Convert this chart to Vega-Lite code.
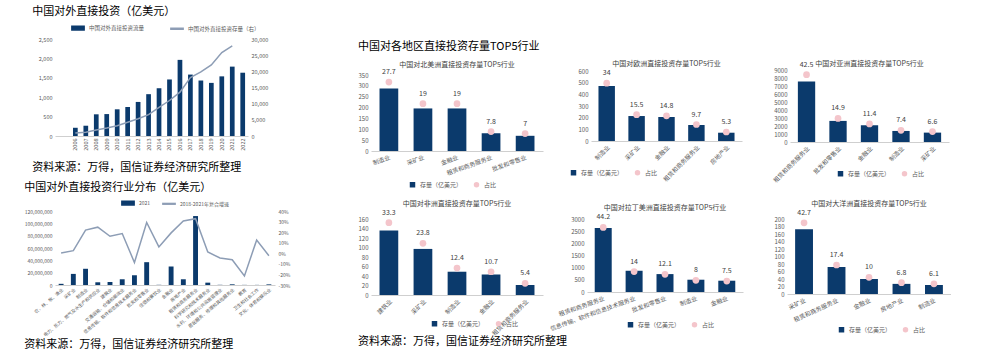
{
"$schema": "https://vega.github.io/schema/vega-lite/v6.json",
"background": "white",
"padding": {"left": 24, "top": 6, "right": 0, "bottom": 0},
"config": {
 "font": "Noto Sans CJK SC",
 "view": {"stroke": null},
 "axis": {"grid": false, "ticks": false, "domain": false, "labelFontSize": 6, "labelColor": "#595959", "labelPadding": 3},
 "axisX": {"domain": true, "domainColor": "#cfcfcf"},
 "legend": {"labelFontSize": 6, "labelColor": "#595959"},
 "title": {"fontWeight": "normal", "color": "#000"}
},
"datasets": {
 "fdi": [
  {"year": "2006", "flow": 212, "stock": 906},
  {"year": "2007", "flow": 265, "stock": 1179},
  {"year": "2008", "flow": 559, "stock": 1840},
  {"year": "2009", "flow": 565, "stock": 2458},
  {"year": "2010", "flow": 688, "stock": 3172},
  {"year": "2011", "flow": 747, "stock": 4248},
  {"year": "2012", "flow": 878, "stock": 5319},
  {"year": "2013", "flow": 1078, "stock": 6605},
  {"year": "2014", "flow": 1231, "stock": 8826},
  {"year": "2015", "flow": 1457, "stock": 10979},
  {"year": "2016", "flow": 1962, "stock": 13574},
  {"year": "2017", "flow": 1583, "stock": 18090},
  {"year": "2018", "flow": 1430, "stock": 19823},
  {"year": "2019", "flow": 1369, "stock": 21989},
  {"year": "2020", "flow": 1537, "stock": 25807},
  {"year": "2021", "flow": 1788, "stock": 27852},
  {"year": "2022", "flow": 1631, "stock": null}
 ],
 "industry": [
  {"ind": "农、林、牧、渔业", "v2021": 1900000, "cagr": 0.2},
  {"ind": "采矿业", "v2021": 18000000, "cagr": 2.5},
  {"ind": "制造业", "v2021": 26300000, "cagr": 21.9},
  {"ind": "电力、热力、燃气及水生产和供应业", "v2021": 4400000, "cagr": 24.7},
  {"ind": "建筑业", "v2021": 4900000, "cagr": 16.1},
  {"ind": "交通运输、仓储和邮政业", "v2021": 9300000, "cagr": 18.7},
  {"ind": "信息传输、软件和信息技术服务业", "v2021": 15800000, "cagr": -8.7},
  {"ind": "批发和零售业", "v2021": 37000000, "cagr": 29.2},
  {"ind": "住宿和餐饮业", "v2021": 300000, "cagr": 6.0},
  {"ind": "金融业", "v2021": 30000000, "cagr": 19.3},
  {"ind": "房地产业", "v2021": 9300000, "cagr": 30.5},
  {"ind": "租赁和商务服务业", "v2021": 111800000, "cagr": 32.7},
  {"ind": "科学研究和技术服务业", "v2021": 3800000, "cagr": 1.2},
  {"ind": "水利、环境和公共设施管理业", "v2021": 300000, "cagr": -4.5},
  {"ind": "居民服务、修理和其他服务业", "v2021": 1100000, "cagr": -6.1},
  {"ind": "教育", "v2021": 200000, "cagr": -21.4},
  {"ind": "卫生和社会工作", "v2021": 200000, "cagr": 12.6},
  {"ind": "文化、体育和娱乐业", "v2021": 1000000, "cagr": -2.3}
 ],
 "top5": [
  {"region": "北美洲", "ind": "制造业", "stock": 288, "share": 27.7},
  {"region": "北美洲", "ind": "采矿业", "stock": 196, "share": 19},
  {"region": "北美洲", "ind": "金融业", "stock": 196, "share": 19},
  {"region": "北美洲", "ind": "租赁和商务服务业", "stock": 82, "share": 7.8},
  {"region": "北美洲", "ind": "批发和零售业", "stock": 70, "share": 7},
  {"region": "欧洲", "ind": "制造业", "stock": 471, "share": 34},
  {"region": "欧洲", "ind": "采矿业", "stock": 214, "share": 15.5},
  {"region": "欧洲", "ind": "金融业", "stock": 206, "share": 14.8},
  {"region": "欧洲", "ind": "租赁和商务服务业", "stock": 137, "share": 9.7},
  {"region": "欧洲", "ind": "房地产业", "stock": 71, "share": 5.3},
  {"region": "亚洲", "ind": "租赁和商务服务业", "stock": 7577, "share": 42.5},
  {"region": "亚洲", "ind": "批发和零售业", "stock": 2637, "share": 14.9},
  {"region": "亚洲", "ind": "金融业", "stock": 2093, "share": 11.4},
  {"region": "亚洲", "ind": "制造业", "stock": 1381, "share": 7.4},
  {"region": "亚洲", "ind": "采矿业", "stock": 1172, "share": 6.6},
  {"region": "非洲", "ind": "建筑业", "stock": 136, "share": 33.3},
  {"region": "非洲", "ind": "采矿业", "stock": 97, "share": 23.8},
  {"region": "非洲", "ind": "制造业", "stock": 49, "share": 12.4},
  {"region": "非洲", "ind": "金融业", "stock": 43, "share": 10.7},
  {"region": "非洲", "ind": "租赁和商务服务业", "stock": 21, "share": 5.4},
  {"region": "拉丁美洲", "ind": "租赁和商务服务业", "stock": 2632, "share": 44.2},
  {"region": "拉丁美洲", "ind": "信息传输、软件和信息技术服务业", "stock": 873, "share": 14},
  {"region": "拉丁美洲", "ind": "批发和零售业", "stock": 736, "share": 12.1},
  {"region": "拉丁美洲", "ind": "制造业", "stock": 505, "share": 8},
  {"region": "拉丁美洲", "ind": "金融业", "stock": 464, "share": 7.5},
  {"region": "大洋洲", "ind": "采矿业", "stock": 173, "share": 42.7},
  {"region": "大洋洲", "ind": "租赁和商务服务业", "stock": 72, "share": 17.4},
  {"region": "大洋洲", "ind": "金融业", "stock": 40, "share": 10},
  {"region": "大洋洲", "ind": "房地产业", "stock": 27, "share": 6.8},
  {"region": "大洋洲", "ind": "制造业", "stock": 24, "share": 6.1}
 ]
},
"columns": 2,
"align": "none",
"concat": [
 {
  "vconcat": [
   {
    "vconcat": [
     {
      "width": 193, "height": 97,
      "title": {"text": "中国对外直接投资（亿美元）", "anchor": "start", "fontSize": 11, "offset": 20, "dx": -6},
      "data": {"name": "fdi"},
      "encoding": {"x": {"field": "year", "type": "ordinal", "scale": {"paddingInner": 0.55, "paddingOuter": 1.01, "align": 0.86}, "axis": {"title": null, "labelAngle": -90, "labelFontSize": 5.5, "labelPadding": 2}}},
      "layer": [
       {"mark": {"type": "bar", "color": "#0b3a6c"},
        "encoding": {
         "y": {"field": "flow", "type": "quantitative", "scale": {"domain": [0, 2500]}, "axis": {"title": null, "values": [0, 500, 1000, 1500, 2000, 2500], "format": ",.0f", "labelFontSize": 5.5}},
         "color": {"datum": "中国对外直接投资流量", "scale": {"domain": ["中国对外直接投资流量", "中国对外直接投资存量（右）"], "range": ["#0b3a6c", "#8d9db5"]},
          "legend": {"orient": "none", "legendX": 16, "legendY": -18, "direction": "horizontal", "title": null, "symbolSize": 150, "labelFontSize": 5.5, "columnPadding": 22,
           "encode": {"symbols": {"update": {"shape": {"signal": "datum.value === '中国对外直接投资流量' ? 'M-1,-0.3H1V0.3H-1Z' : 'M-1,-0.08H1V0.08H-1Z'"}}}}}}}},
       {"mark": {"type": "line", "strokeWidth": 1.5},
        "encoding": {
         "y": {"field": "stock", "type": "quantitative", "scale": {"domain": [0, 30000]}, "axis": {"orient": "right", "title": null, "values": [0, 5000, 10000, 15000, 20000, 25000, 30000], "format": ",.0f", "labelFontSize": 5.5}},
         "color": {"datum": "中国对外直接投资存量（右）"}}}
      ],
      "resolve": {"scale": {"y": "independent"}}
     }
    ],
    "title": {"text": "资料来源：万得，国信证券经济研究所整理", "orient": "bottom", "anchor": "start", "fontSize": 11, "offset": 12}
   },
   {
    "vconcat": [
     {
      "width": 220, "height": 74,
      "title": {"text": "中国对外直接投资行业分布（亿美元）", "anchor": "start", "fontSize": 11, "offset": 16},
      "data": {"name": "industry"},
      "encoding": {"x": {"field": "ind", "type": "nominal", "sort": null, "scale": {"paddingInner": 0.6, "paddingOuter": 0.3}, "axis": {"title": null, "labelAngle": -40, "labelFontSize": 4.5, "labelPadding": 2, "labelLimit": 200}}},
      "layer": [
       {"mark": {"type": "bar", "color": "#0b3a6c"},
        "encoding": {
         "y": {"field": "v2021", "type": "quantitative", "scale": {"domain": [0, 120000000]}, "axis": {"title": null, "values": [0, 20000000, 40000000, 60000000, 80000000, 100000000, 120000000], "format": ",.0f", "labelFontSize": 5}},
         "color": {"datum": "2021", "scale": {"domain": ["2021", "2018-2021年复合增速"], "range": ["#0b3a6c", "#8d9db5"]},
          "legend": {"orient": "none", "legendX": 66, "legendY": -15, "direction": "horizontal", "title": null, "symbolSize": 150, "labelFontSize": 5, "columnPadding": 8,
           "encode": {"symbols": {"update": {"shape": {"signal": "datum.value === '2021' ? 'M-1,-0.3H1V0.3H-1Z' : 'M-1,-0.06H1V0.06H-1Z'"}}}}}}}},
       {"mark": {"type": "line", "strokeWidth": 1.5},
        "encoding": {
         "y": {"field": "cagr", "type": "quantitative", "scale": {"domain": [-30, 40]}, "axis": {"orient": "right", "title": null, "values": [-30, -20, -10, 0, 10, 20, 30, 40], "labelExpr": "datum.value + '%'", "labelFontSize": 5}},
         "color": {"datum": "2018-2021年复合增速"}}}
      ],
      "resolve": {"scale": {"y": "independent"}}
     }
    ],
    "title": {"text": "资料来源：万得，国信证券经济研究所整理", "orient": "bottom", "anchor": "start", "fontSize": 11, "offset": 2}
   }
  ],
  "spacing": 8,
  "resolve": {"scale": {"color": "independent"}}
 },
 {
  "title": {"text": "中国对各地区直接投资存量TOP5行业", "anchor": "start", "fontSize": 11, "offset": -13},
  "vconcat": [
   {
    "bounds": "flush",
    "hconcat": [
     {
      "width": 172, "height": 112,
      "title": {"text": "中国对北美洲直接投资存量TOP5行业", "fontSize": 7, "color": "#404040", "offset": -29},
      "data": {"name": "top5"},
      "transform": [{"filter": "datum.region === '北美洲'"}],
      "encoding": {"x": {"field": "ind", "type": "nominal", "sort": null, "scale": {"paddingInner": 0.45, "paddingOuter": 0.25}, "axis": {"title": null, "labelAngle": -20, "labelFontSize": 6}}},
      "layer": [
       {"mark": {"type": "bar", "color": "#0b3a6c"},
        "encoding": {
         "y": {"field": "stock", "type": "quantitative", "scale": {"domain": [0, 515.8]}, "axis": {"title": null, "values": [0, 50, 100, 150, 200, 250, 300, 350]}},
         "color": {"datum": "存量（亿美元）", "scale": {"domain": ["存量（亿美元）", "占比"], "range": ["#0b3a6c", "#f4c5cb"]},
          "legend": {"orient": "none", "legendX": 38, "legendY": 142, "direction": "horizontal", "title": null, "symbolSize": 30, "labelFontSize": 6,
           "encode": {"symbols": {"update": {"shape": {"signal": "datum.value === '占比' ? 'circle' : 'square'"}}}}}}}},
       {"layer": [
        {"mark": {"type": "point", "filled": true, "size": 45, "opacity": 1},
         "encoding": {"y": {"field": "share", "type": "quantitative", "scale": {"domain": [0, 44.2]}, "axis": {"orient": "right", "title": null, "values": [0, 5, 10, 15, 20, 25, 30]}}, "color": {"datum": "占比"}}},
        {"mark": {"type": "text", "dy": -10, "fontSize": 7, "color": "#404040"},
         "encoding": {"y": {"field": "share", "type": "quantitative", "axis": null}, "text": {"field": "share", "type": "quantitative"}}}
       ]}
      ],
      "resolve": {"scale": {"y": "independent"}}
     },
     {
      "width": 151, "height": 102,
      "title": {"text": "中国对欧洲直接投资存量TOP5行业", "fontSize": 7, "color": "#404040", "offset": -28},
      "data": {"name": "top5"},
      "transform": [{"filter": "datum.region === '欧洲'"}],
      "encoding": {"x": {"field": "ind", "type": "nominal", "sort": null, "scale": {"paddingInner": 0.45, "paddingOuter": 0.25}, "axis": {"title": null, "labelAngle": -45, "labelFontSize": 6}}},
      "layer": [
       {"mark": {"type": "bar", "color": "#0b3a6c"},
        "encoding": {
         "y": {"field": "stock", "type": "quantitative", "scale": {"domain": [0, 874.3]}, "axis": {"title": null, "values": [0, 100, 200, 300, 400, 500, 600]}},
         "color": {"datum": "存量（亿美元）", "scale": {"domain": ["存量（亿美元）", "占比"], "range": ["#0b3a6c", "#f4c5cb"]},
          "legend": {"orient": "none", "legendX": -21, "legendY": 130, "direction": "horizontal", "title": null, "symbolSize": 30, "labelFontSize": 6,
           "encode": {"symbols": {"update": {"shape": {"signal": "datum.value === '占比' ? 'circle' : 'square'"}}}}}}}},
       {"layer": [
        {"mark": {"type": "point", "filled": true, "size": 45, "opacity": 1},
         "encoding": {"y": {"field": "share", "type": "quantitative", "scale": {"domain": [0, 58.3]}, "axis": {"orient": "right", "title": null, "values": [0, 5, 10, 15, 20, 25, 30, 35, 40]}}, "color": {"datum": "占比"}}},
        {"mark": {"type": "text", "dy": -10, "fontSize": 7, "color": "#404040"},
         "encoding": {"y": {"field": "share", "type": "quantitative", "axis": null}, "text": {"field": "share", "type": "quantitative"}}}
       ]}
      ],
      "resolve": {"scale": {"y": "independent"}}
     },
     {
      "width": 159, "height": 103,
      "title": {"text": "中国对亚洲直接投资存量TOP5行业", "fontSize": 7, "color": "#404040", "offset": -28},
      "data": {"name": "top5"},
      "transform": [{"filter": "datum.region === '亚洲'"}],
      "encoding": {"x": {"field": "ind", "type": "nominal", "sort": null, "scale": {"paddingInner": 0.45, "paddingOuter": 0.25}, "axis": {"title": null, "labelAngle": -45, "labelFontSize": 6}}},
      "layer": [
       {"mark": {"type": "bar", "color": "#0b3a6c"},
        "encoding": {
         "y": {"field": "stock", "type": "quantitative", "scale": {"domain": [0, 12875]}, "axis": {"title": null, "values": [0, 1000, 2000, 3000, 4000, 5000, 6000, 7000, 8000, 9000], "format": "d"}},
         "color": {"datum": "存量（亿美元）", "scale": {"domain": ["存量（亿美元）", "占比"], "range": ["#0b3a6c", "#f4c5cb"]},
          "legend": {"orient": "none", "legendX": 47, "legendY": 131, "direction": "horizontal", "title": null, "symbolSize": 30, "labelFontSize": 6,
           "encode": {"symbols": {"update": {"shape": {"signal": "datum.value === '占比' ? 'circle' : 'square'"}}}}}}}},
       {"layer": [
        {"mark": {"type": "point", "filled": true, "size": 45, "opacity": 1},
         "encoding": {"y": {"field": "share", "type": "quantitative", "scale": {"domain": [0, 64.4]}, "axis": {"orient": "right", "title": null, "values": [0, 5, 10, 15, 20, 25, 30, 35, 40, 45]}}, "color": {"datum": "占比"}}},
        {"mark": {"type": "text", "dy": -10, "fontSize": 7, "color": "#404040"},
         "encoding": {"y": {"field": "share", "type": "quantitative", "axis": null}, "text": {"field": "share", "type": "quantitative"}}}
       ]}
      ],
      "resolve": {"scale": {"y": "independent"}}
     }
    ],
    "spacing": 48,
    "resolve": {"scale": {"color": "independent"}}
   },
   {
    "bounds": "flush",
    "hconcat": [
     {
      "width": 172, "height": 76,
      "title": {"text": "中国对非洲直接投资存量TOP5行业", "fontSize": 7, "color": "#404040", "offset": 2},
      "data": {"name": "top5"},
      "transform": [{"filter": "datum.region === '非洲'"}],
      "encoding": {"x": {"field": "ind", "type": "nominal", "sort": null, "scale": {"paddingInner": 0.45, "paddingOuter": 0.25}, "axis": {"title": null, "labelAngle": -45, "labelFontSize": 6}}},
      "layer": [
       {"mark": {"type": "bar", "color": "#0b3a6c"},
        "encoding": {
         "y": {"field": "stock", "type": "quantitative", "scale": {"domain": [0, 160]}, "axis": {"title": null, "values": [0, 20, 40, 60, 80, 100, 120, 140, 160]}},
         "color": {"datum": "存量（亿美元）", "scale": {"domain": ["存量（亿美元）", "占比"], "range": ["#0b3a6c", "#f4c5cb"]},
          "legend": {"orient": "none", "legendX": 60, "legendY": 101, "direction": "horizontal", "title": null, "symbolSize": 30, "labelFontSize": 6,
           "encode": {"symbols": {"update": {"shape": {"signal": "datum.value === '占比' ? 'circle' : 'square'"}}}}}}}},
       {"layer": [
        {"mark": {"type": "point", "filled": true, "size": 45, "opacity": 1},
         "encoding": {"y": {"field": "share", "type": "quantitative", "scale": {"domain": [0, 35]}, "axis": {"orient": "right", "title": null, "values": [0, 5, 10, 15, 20, 25, 30, 35]}}, "color": {"datum": "占比"}}},
        {"mark": {"type": "text", "dy": -10, "fontSize": 7, "color": "#404040"},
         "encoding": {"y": {"field": "share", "type": "quantitative", "axis": null}, "text": {"field": "share", "type": "quantitative"}}}
       ]}
      ],
      "resolve": {"scale": {"y": "independent"}}
     },
     {
      "width": 156, "height": 73,
      "title": {"text": "中国对拉丁美洲直接投资存量TOP5行业", "fontSize": 7, "color": "#404040", "offset": 2},
      "data": {"name": "top5"},
      "transform": [{"filter": "datum.region === '拉丁美洲'"}],
      "encoding": {"x": {"field": "ind", "type": "nominal", "sort": null, "scale": {"paddingInner": 0.45, "paddingOuter": 0.25}, "axis": {"title": null, "labelAngle": -20, "labelFontSize": 6, "labelLimit": 200}}},
      "layer": [
       {"mark": {"type": "bar", "color": "#0b3a6c"},
        "encoding": {
         "y": {"field": "stock", "type": "quantitative", "scale": {"domain": [0, 3000]}, "axis": {"title": null, "values": [0, 500, 1000, 1500, 2000, 2500, 3000], "format": "d"}},
         "color": {"datum": "存量（亿美元）", "scale": {"domain": ["存量（亿美元）", "占比"], "range": ["#0b3a6c", "#f4c5cb"]},
          "legend": {"orient": "none", "legendX": 40, "legendY": 102, "direction": "horizontal", "title": null, "symbolSize": 30, "labelFontSize": 6,
           "encode": {"symbols": {"update": {"shape": {"signal": "datum.value === '占比' ? 'circle' : 'square'"}}}}}}}},
       {"layer": [
        {"mark": {"type": "point", "filled": true, "size": 45, "opacity": 1},
         "encoding": {"y": {"field": "share", "type": "quantitative", "scale": {"domain": [0, 50]}, "axis": {"orient": "right", "title": null, "values": [0, 5, 10, 15, 20, 25, 30, 35, 40, 45, 50]}}, "color": {"datum": "占比"}}},
        {"mark": {"type": "text", "dy": -10, "fontSize": 7, "color": "#404040"},
         "encoding": {"y": {"field": "share", "type": "quantitative", "axis": null}, "text": {"field": "share", "type": "quantitative"}}}
       ]}
      ],
      "resolve": {"scale": {"y": "independent"}}
     },
     {
      "width": 164, "height": 75,
      "title": {"text": "中国对大洋洲直接投资存量TOP5行业", "fontSize": 7, "color": "#404040", "offset": 2},
      "data": {"name": "top5"},
      "transform": [{"filter": "datum.region === '大洋洲'"}],
      "encoding": {"x": {"field": "ind", "type": "nominal", "sort": null, "scale": {"paddingInner": 0.45, "paddingOuter": 0.25}, "axis": {"title": null, "labelAngle": -25, "labelFontSize": 6}}},
      "layer": [
       {"mark": {"type": "bar", "color": "#0b3a6c"},
        "encoding": {
         "y": {"field": "stock", "type": "quantitative", "scale": {"domain": [0, 200]}, "axis": {"title": null, "values": [0, 20, 40, 60, 80, 100, 120, 140, 160, 180, 200]}},
         "color": {"datum": "存量（亿美元）", "scale": {"domain": ["存量（亿美元）", "占比"], "range": ["#0b3a6c", "#f4c5cb"]},
          "legend": {"orient": "none", "legendX": 51, "legendY": 107, "direction": "horizontal", "title": null, "symbolSize": 30, "labelFontSize": 6,
           "encode": {"symbols": {"update": {"shape": {"signal": "datum.value === '占比' ? 'circle' : 'square'"}}}}}}}},
       {"layer": [
        {"mark": {"type": "point", "filled": true, "size": 45, "opacity": 1},
         "encoding": {"y": {"field": "share", "type": "quantitative", "scale": {"domain": [0, 45]}, "axis": {"orient": "right", "title": null, "values": [0, 5, 10, 15, 20, 25, 30, 35, 40, 45]}}, "color": {"datum": "占比"}}},
        {"mark": {"type": "text", "dy": -10, "fontSize": 7, "color": "#404040"},
         "encoding": {"y": {"field": "share", "type": "quantitative", "axis": null}, "text": {"field": "share", "type": "quantitative"}}}
       ]}
      ],
      "resolve": {"scale": {"y": "independent"}}
     }
    ],
    "spacing": 44,
    "resolve": {"scale": {"color": "independent"}},
    "title": {"text": "资料来源：万得，国信证券经济研究所整理", "orient": "bottom", "anchor": "start", "fontSize": 11, "offset": 0}
   }
  ],
  "spacing": 11,
  "resolve": {"scale": {"color": "independent"}}
 }
],
"spacing": 68,
"resolve": {"scale": {"color": "independent"}}
}
